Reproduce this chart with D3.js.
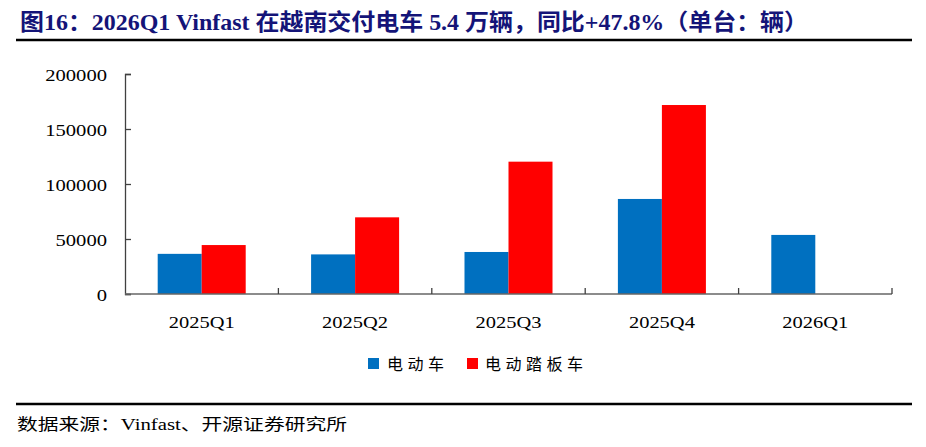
<!DOCTYPE html>
<html>
<head>
<meta charset="utf-8">
<script src="https://cdn.jsdelivr.net/npm/d3@7"></script>
<style>
  html, body { margin: 0; padding: 0; background: #fff; }
  svg { display: block; }
</style>
</head>
<body>
<svg id="chart" width="926" height="447"></svg>
<script>
// ---- data ----
const categories = ["2025Q1", "2025Q2", "2025Q3", "2025Q4", "2026Q1"];
const seriesNames = ["电动车", "电动踏板车"];
const evValues = [36500, 36000, 38200, 86400, 53700];
const scooterValues = [44500, 69700, 120300, 171800, null];
const yTicks = [0, 50000, 100000, 150000, 200000];
const titleText = "图16：2026Q1 Vinfast 在越南交付电车 5.4 万辆，同比+47.8%（单台：辆）";
const sourceText = "数据来源：Vinfast、开源证券研究所";

const colors = ["#0070C0", "#FF0000"];
const svg = d3.select("#chart");

// layout
const plotLeft = 125, plotRight = 892, plotTop = 74, plotBottom = 294;

const x = d3.scaleBand().domain(categories).range([plotLeft, plotRight]).padding(0);
const x1 = d3.scaleBand().domain(seriesNames).range([0, x.bandwidth()])
  .paddingInner(0).paddingOuter(0.743);
const y = d3.scaleLinear().domain([0, 200000]).range([plotBottom, plotTop]);

// title
svg.append("text")
  .attr("x", 20).attr("y", 30)
  .attr("fill", "#141478")
  .attr("font-family", "'Liberation Serif', 'Noto Sans CJK SC', serif")
  .attr("font-weight", "bold")
  .attr("font-size", 22.5)
  .attr("textLength", 788)
  .attr("lengthAdjust", "spacingAndGlyphs")
  .text(titleText);

// rules
svg.append("line").attr("x1", 16).attr("x2", 912).attr("y1", 40).attr("y2", 40)
  .attr("stroke", "#000").attr("stroke-width", 2.5);
svg.append("line").attr("x1", 16).attr("x2", 912).attr("y1", 404).attr("y2", 404)
  .attr("stroke", "#000").attr("stroke-width", 2.5);

// bars
const data = categories.map((c, i) => ({ cat: c, vals: [evValues[i], scooterValues[i]] }));
const groups = svg.append("g").selectAll("g").data(data).join("g")
  .attr("transform", d => `translate(${x(d.cat)},0)`);
groups.selectAll("rect")
  .data(d => d.vals.map((v, j) => ({ name: seriesNames[j], v, j })).filter(e => e.v != null))
  .join("rect")
  .attr("x", e => x1(e.name))
  .attr("width", x1.bandwidth())
  .attr("y", e => y(e.v))
  .attr("height", e => y(0) - y(e.v))
  .attr("fill", e => colors[e.j]);

// y axis
const yAxis = svg.append("g").attr("transform", `translate(${plotLeft},0)`)
  .call(d3.axisLeft(y).tickValues(yTicks).tickSize(-6).tickPadding(18).tickFormat(d3.format("d")));
yAxis.select(".domain").attr("stroke", "#404040").attr("stroke-width", 1.3);
yAxis.selectAll(".tick line").attr("stroke", "#404040").attr("stroke-width", 1.3);
yAxis.selectAll(".tick text")
  .attr("font-family", "'Liberation Serif', serif")
  .attr("font-size", 17.5)
  .attr("fill", "#000")
  .attr("dy", "0.36em")
  .attr("textLength", function(d) { return String(d).length * 10.3; })
  .attr("lengthAdjust", "spacingAndGlyphs");

// x axis
const xAxis = svg.append("g").attr("transform", `translate(0,${plotBottom})`)
  .call(d3.axisBottom(x).tickSize(0).tickPadding(22));
xAxis.select(".domain").remove();
xAxis.selectAll(".tick text")
  .attr("font-family", "'Liberation Serif', serif")
  .attr("font-size", 17.5)
  .attr("fill", "#000")
  .attr("textLength", 66)
  .attr("lengthAdjust", "spacingAndGlyphs");
svg.append("line").attr("x1", plotLeft).attr("x2", plotRight).attr("y1", plotBottom).attr("y2", plotBottom)
  .attr("stroke", "#666").attr("stroke-width", 1.5);
const boundaries = categories.slice(1).map(c => x(c)).concat([plotRight]);
svg.append("g").selectAll("line").data(boundaries).join("line")
  .attr("x1", d => d).attr("x2", d => d)
  .attr("y1", plotBottom).attr("y2", plotBottom - 6)
  .attr("stroke", "#404040").attr("stroke-width", 1.3);

// legend
const legendItems = [
  { name: seriesNames[0], sx: 368, tx: 387, len: 57 },
  { name: seriesNames[1], sx: 467, tx: 485, len: 98 }
];
const lg = svg.append("g");
legendItems.forEach((it, i) => {
  lg.append("rect").attr("x", it.sx).attr("y", 358).attr("width", 11).attr("height", 11)
    .attr("fill", colors[i]);
  lg.append("text").attr("x", it.tx).attr("y", 370)
    .attr("font-family", "'Noto Sans CJK SC', sans-serif")
    .attr("font-size", 16)
    .attr("fill", "#000")
    .attr("textLength", it.len)
    .attr("lengthAdjust", "spacing")
    .text(it.name);
});

// source
svg.append("text")
  .attr("x", 17).attr("y", 430)
  .attr("font-family", "'Liberation Serif', 'Noto Sans CJK SC', serif")
  .attr("font-size", 16)
  .attr("fill", "#000")
  .attr("textLength", 330)
  .attr("lengthAdjust", "spacingAndGlyphs")
  .text(sourceText);
</script>
</body>
</html>
